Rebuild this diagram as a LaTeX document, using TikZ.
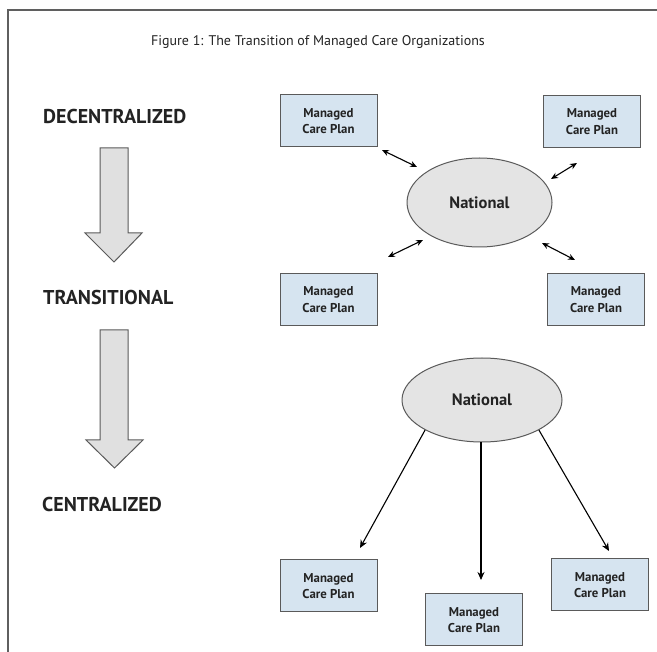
\documentclass[tikz,border=0pt]{standalone}
\usepackage{fontspec}
\setmainfont{PT Sans}
\usetikzlibrary{shapes.geometric,arrows.meta,calc}
\definecolor{boxblue}{RGB}{214,228,240}
\definecolor{edgegray}{RGB}{90,90,90}
\definecolor{ellgray}{RGB}{228,228,228}
\definecolor{bigarrow}{RGB}{224,224,224}
\definecolor{framegray}{RGB}{95,95,95}
\definecolor{txt}{RGB}{35,35,35}
\tikzset{
  plan/.style={draw=edgegray, line width=1pt, fill=boxblue, minimum width=97pt, minimum height=52pt,
    inner sep=0pt, align=center, font=\fontsize{12.8}{16.5}\selectfont\bfseries, text=txt},
  natl/.style={ellipse, draw=edgegray, line width=1pt, fill=ellgray, inner sep=0pt,
    font=\fontsize{16.5}{18}\selectfont\bfseries, text=txt},
  stage/.style={font=\fontsize{20}{22}\selectfont\bfseries, text=txt, anchor=west, inner sep=0pt},
  link/.style={line width=1.1pt, black, {Stealth[length=7pt,width=6pt]}-{Stealth[length=7pt,width=6pt]}},
  feed/.style={line width=1.1pt, black, -{Stealth[length=8pt,width=7pt]}},
  downarrow/.style={draw=edgegray, line width=1pt, fill=bigarrow, line join=miter}
}
\begin{document}
\begin{tikzpicture}[x=1pt,y=-1pt]
\useasboundingbox (0,0) rectangle (657,652);
\fill[white] (0,0) rectangle (657,652);
% frame
\draw[framegray, line width=2pt] (8,652) -- (8,10) -- (657,10);
% title
\node[font=\fontsize{14}{16}\selectfont, text=txt] (title) at (318,42) {Figure 1: The Transition of Managed Care Organizations};
% stage labels
\node[stage] (dec) at (43,117) {DECENTRALIZED};
\node[stage] (tra) at (43,298) {TRANSITIONAL};
\node[stage] (cen) at (42,505) {CENTRALIZED};
% big down arrows
\draw[downarrow] (100,148) -- (128,148) -- (128,233) -- (142,233) -- (114,262) -- (85,233) -- (100,233) -- cycle;
\draw[downarrow] (100,330) -- (128,330) -- (128,440) -- (143,440) -- (114.5,468) -- (86,440) -- (100,440) -- cycle;
% decentralized network
\node[natl, minimum width=145pt, minimum height=89pt] (nat) at (479.5,202.5) {National};
\node[plan] (tl) at (328.5,121) {Managed\\Care Plan};
\node[plan] (tr) at (592,121.5) {Managed\\Care Plan};
\node[plan] (bl) at (328.5,299.5) {Managed\\Care Plan};
\node[plan] (br) at (596,299.5) {Managed\\Care Plan};
\coordinate (a1) at (382,150); \coordinate (a2) at (417,167);
\coordinate (b1) at (577,163); \coordinate (b2) at (551,179);
\coordinate (c1) at (388,257); \coordinate (c2) at (423,240);
\coordinate (d1) at (575,260); \coordinate (d2) at (542,243);
\draw[link] (a1) -- (a2);
\draw[link] (b1) -- (b2);
\draw[link] (c1) -- (c2);
\draw[link] (d1) -- (d2);
% centralized network
\node[natl, minimum width=160pt, minimum height=84pt] (nat2) at (482,400) {National};
\node[plan] (p1) at (328.5,586) {Managed\\Care Plan};
\node[plan] (p2) at (474,620) {Managed\\Care Plan};
\node[plan] (p3) at (600,585) {Managed\\Care Plan};
\coordinate (e1) at (360,548);
\coordinate (e2) at (481,580);
\coordinate (e3) at (609,551);
\draw[feed] (nat2.south west) -- (e1);
\draw[feed] ($(nat2.south)+(-1,0)$) -- (e2);
\draw[feed] (nat2.south east) -- (e3);
\end{tikzpicture}
\end{document}
